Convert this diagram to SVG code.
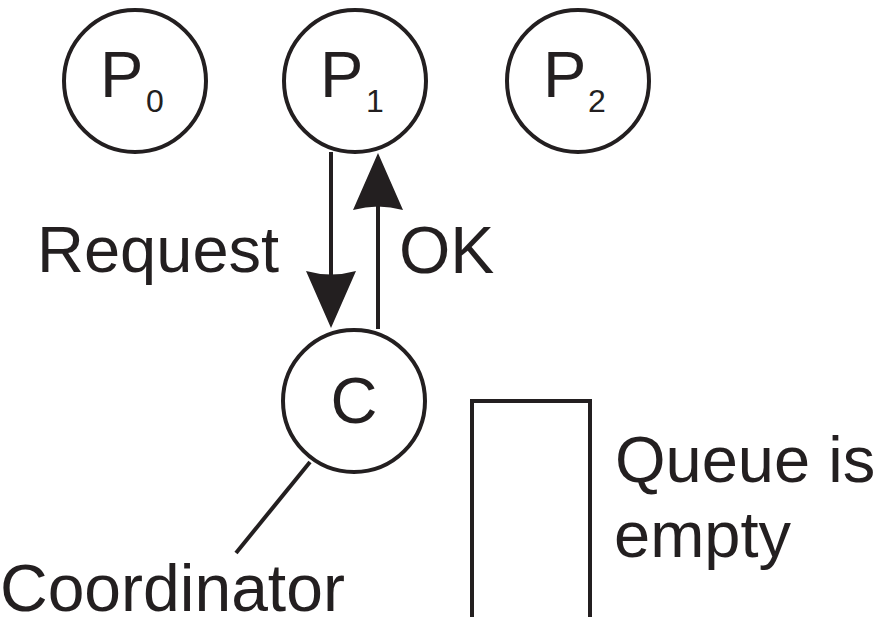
<svg xmlns="http://www.w3.org/2000/svg" width="883" height="617" viewBox="0 0 883 617">
  <style>
    .node { fill: #ffffff; stroke: #231f20; stroke-width: 4; }
    .lbl { font-family: "Liberation Sans", Arial, sans-serif; fill: #231f20; font-size: 65px; }
    .sub { font-family: "Liberation Sans", Arial, sans-serif; fill: #231f20; font-size: 32px; }
    .conn { fill: none; stroke: #231f20; stroke-width: 4; }
  </style>
  <defs>
    <marker id="arrow" viewBox="0 0 57 50" markerUnits="userSpaceOnUse" markerWidth="57" markerHeight="50" refX="29" refY="25" orient="auto">
      <path d="M0,0 Q7,25 0,50 L57,25 Z" fill="#231f20"/>
    </marker>
  </defs>
  <rect width="883" height="617" fill="#ffffff"/>

  <g id="P0">
    <circle class="node" cx="135" cy="81" r="71"/>
    <text class="lbl" x="100" y="97">P</text>
    <text class="sub" x="146" y="112">0</text>
  </g>
  <g id="P1">
    <circle class="node" cx="355" cy="81" r="71"/>
    <text class="lbl" x="320" y="97">P</text>
    <text class="sub" x="366" y="112">1</text>
  </g>
  <g id="P2">
    <circle class="node" cx="578" cy="81" r="71"/>
    <text class="lbl" x="543" y="97">P</text>
    <text class="sub" x="588" y="112">2</text>
  </g>
  <g id="C">
    <circle class="node" cx="354" cy="401" r="71"/>
    <text class="lbl" x="354" y="423" text-anchor="middle">C</text>
  </g>
  <g id="queue">
    <path class="conn" d="M472,617 V401 H590 V617"/>
    <text class="lbl" x="615" y="482">Queue is</text>
    <text class="lbl" x="614" y="557">empty</text>
  </g>
  <g id="coordinator-label">
    <text class="lbl" x="0" y="611" style="font-size:66px">Coordinator</text>
  </g>

  <g id="connectors">
    <line class="conn" x1="331" y1="152" x2="331" y2="300" marker-end="url(#arrow)"/>
    <line class="conn" x1="378" y1="329" x2="378" y2="181" marker-end="url(#arrow)"/>
    <line class="conn" x1="310" y1="462" x2="236" y2="553"/>
    <text class="lbl" x="37" y="272">Request</text>
    <text class="lbl" x="399" y="273" style="font-size:66px">OK</text>
  </g>
</svg>
